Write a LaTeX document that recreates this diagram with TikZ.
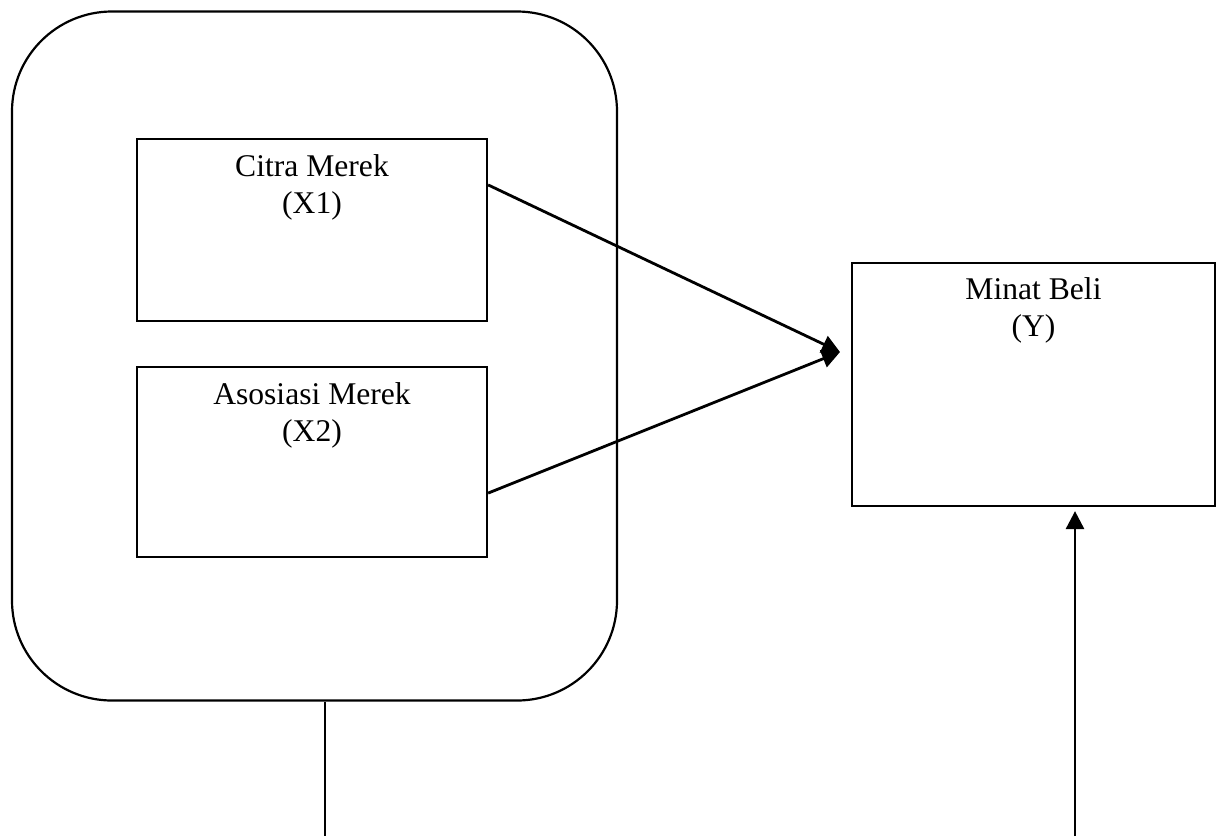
\documentclass[tikz,border=0pt]{standalone}
\usepackage{fontspec}
\setmainfont{Liberation Serif}
\usetikzlibrary{arrows.meta,positioning}

\begin{document}
\begin{tikzpicture}[x=0.5pt,y=-0.5pt,line width=1.1pt,
  varbox/.style={draw,rectangle,inner sep=0pt},
  boxtext/.style={anchor=north,align=center,inner sep=0pt,font=\fontsize{15.8}{18.5}\selectfont},
  link/.style={-{Triangle[length=9pt,width=9pt]},line width=1.4pt}]
  \useasboundingbox (0,0) rectangle (1225,836);
  % independent variables grouped
  \node[draw,rounded corners=50pt,minimum width=302.5pt,minimum height=344.5pt] (group) at (314.5,356) {};
  \node[varbox,minimum width=175pt,minimum height=91pt] (x1) at (312,230) {};
  \node[varbox,minimum width=175pt,minimum height=95pt] (x2) at (312,462) {};
  \node[varbox,minimum width=181.5pt,minimum height=121.5pt] (y) at (1033.5,384.5) {};
  \node[boxtext] (x1text) at ([yshift=-8pt]x1.north) {Citra Merek\\(X1)};
  \node[boxtext] (x2text) at ([yshift=-8pt]x2.north) {Asosiasi Merek\\(X2)};
  \node[boxtext] (ytext) at ([yshift=-7.5pt]y.north) {Minat Beli\\(Y)};
  % connectors
  \coordinate (meet) at (840,352);
  \coordinate (groupfoot) at (325,836);
  \coordinate (yfoot) at (1075,836);
  \draw[link] ([yshift=-23.5pt]x1.north east) -- (meet);
  \draw[link] ([yshift=32.5pt]x2.south east) -- (meet);
  \draw (group.south -| groupfoot) -- (groupfoot);
  \draw[link,shorten >=2pt] (yfoot) -- (yfoot |- y.south);
\end{tikzpicture}
\end{document}
